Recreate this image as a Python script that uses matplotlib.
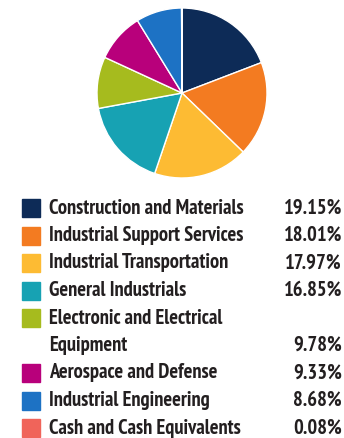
import matplotlib.pyplot as plt
from matplotlib.patches import Rectangle

categories = ['Construction and Materials', 'Industrial Support Services',
              'Industrial Transportation', 'General Industrials',
              'Electronic and Electrical\nEquipment', 'Aerospace and Defense',
              'Industrial Engineering', 'Cash and Cash Equivalents']
values = [19.15, 18.01, 17.97, 16.85, 9.78, 9.33, 8.68, 0.08]
colors = ['#0d2b57', '#f37b21', '#fdbb33', '#17a2b3', '#a6bb1e',
          '#b8007b', '#1d72c4', '#f0645a']

W, H = 344, 438
fig = plt.figure(figsize=(W / 100, H / 100), dpi=100)
fig.patch.set_facecolor('white')

# pie: center ~ (182, 93) px, radius ~ 85 px
r = 85
cx, cy = 182, 93
ax = fig.add_axes([(cx - r) / W, 1 - (cy + r) / H, 2 * r / W, 2 * r / H])
ax.pie(values, colors=colors, startangle=90, counterclock=False,
       wedgeprops=dict(edgecolor='white', linewidth=1.0))
ax.set_xlim(-1, 1)
ax.set_ylim(-1, 1)
ax.set_aspect('equal')
ax.axis('off')

font = dict(family=['PT Sans Narrow', 'Fira Sans Condensed', 'Asap Condensed', 'DejaVu Sans'],
            fontsize=14.8, fontweight='bold', color='#231f20')

row = 0
y0, step = 208, 27.5
for name, val, col in zip(categories, values, colors):
    y = y0 + row * step
    fig.patches.append(Rectangle((22 / W, 1 - (y + 9) / H), 18 / W, 18 / H,
                                 transform=fig.transFigure, color=col))
    lines = name.split('\n')
    for k, line in enumerate(lines):
        fig.text(49 / W, 1 - (y + k * step) / H, line, va='center', ha='left', **font)
    fig.text(342 / W, 1 - (y + (len(lines) - 1) * step) / H, f'{val:.2f}%',
             va='center', ha='right', **font)
    row += len(lines)

fig.savefig('out.png', dpi=100, facecolor='white')
